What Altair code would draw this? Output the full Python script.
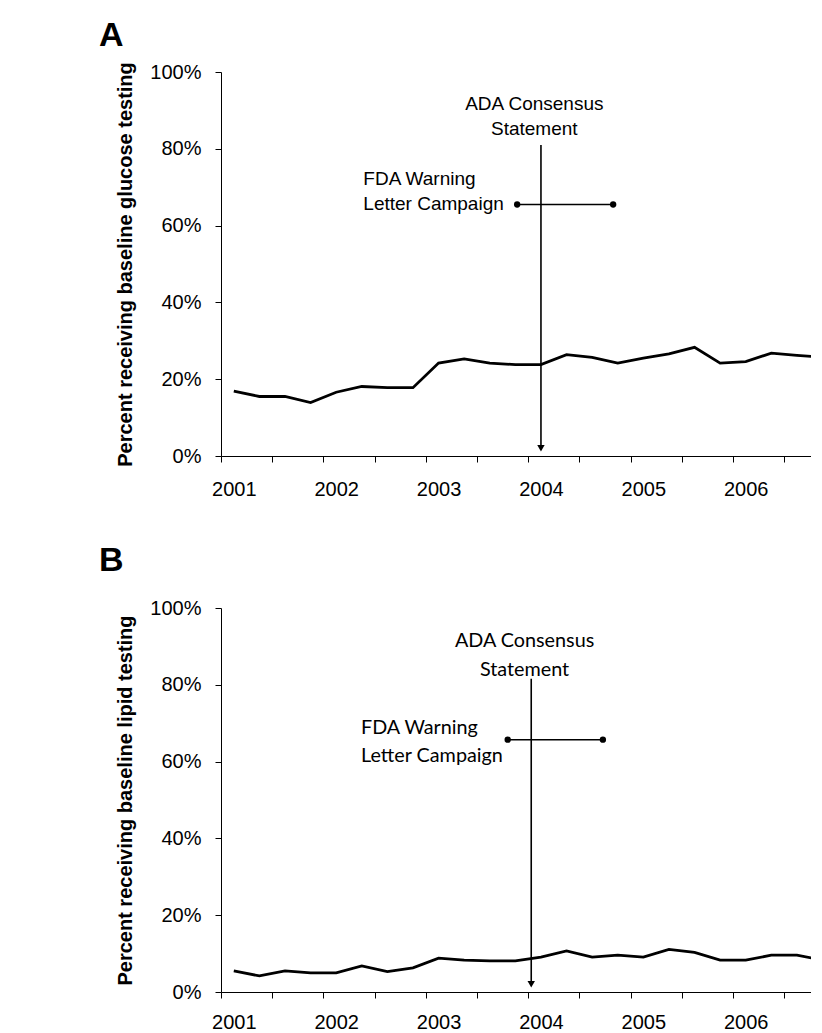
import json
import altair as alt
import pandas as pd

# ---- data -------------------------------------------------------------
quarters = list(range(24))                      # 0 = 2001 Q1 ... 23 = 2006 Q4
years = [2001, 2002, 2003, 2004, 2005, 2006]
y_ticks = [0, 20, 40, 60, 80, 100]

glucose = [16.9, 15.5, 15.5, 13.9, 16.6, 18.1, 17.8, 17.8,
           24.2, 25.3, 24.2, 23.8, 23.8, 26.4, 25.7, 24.2,
           25.5, 26.6, 28.3, 24.2, 24.6, 26.8, 26.2, 25.7]
lipid = [5.5, 4.2, 5.5, 5.0, 5.0, 6.8, 5.3, 6.3,
         8.8, 8.3, 8.1, 8.1, 9.1, 10.7, 9.1, 9.6,
         9.1, 11.1, 10.3, 8.3, 8.3, 9.6, 9.6, 8.3]

ada_lines = ["ADA Consensus", "Statement"]
fda_lines = ["FDA Warning", "Letter Campaign"]

# annotation positions (quarter units, percent)
ann_A = dict(ada_x=12.5, ada_top=81.0, ada_tip=2.0, ada_text_x=12.24, ada_text_y=[91.7, 85.2],
             fda_x1=11.57, fda_x2=15.32, fda_y=65.5, fda_text_x=5.56, fda_text_y=[72.2, 65.5])
ann_B = dict(ada_x=12.12, ada_top=81.6, ada_tip=2.0, ada_text_x=11.86, ada_text_y=[91.3, 83.8],
             fda_x1=11.2, fda_x2=14.92, fda_y=65.7, fda_text_x=5.47, fda_text_y=[68.8, 61.5])

FONT = "Liberation Sans"
W, H = 590, 384
X_END = 23.05   # the reference figure is cropped just after the last quarter tick

year_expr = json.dumps([str(y) for y in years])


def panel(letter, values, ytitle, ann, ann_font, ann_size, title_offset, xpad):
    df = pd.DataFrame({"q": [i + 0.5 for i in quarters], "pct": values})
    xs = alt.Scale(domain=[0, X_END], nice=False, zero=False)
    ys = alt.Scale(domain=[0, 100], nice=False)
    xaxis = alt.Axis(values=quarters, title=None, grid=False, tickSize=6,
                     labelExpr=f"datum.value % 4 === 0 ? {year_expr}[datum.value / 4] : ''",
                     labelOffset=12.8, labelPadding=xpad, labelFlush=False,
                     labelOverlap=False, labelBound=False)
    yaxis = alt.Axis(values=y_ticks, labelExpr="datum.value + '%'", grid=False,
                     tickSize=6, labelPadding=14, titlePadding=14)

    X = alt.X("q:Q", scale=xs, axis=xaxis)
    Y = alt.Y("pct:Q", scale=ys, axis=yaxis, title=ytitle)

    line = alt.Chart(df).mark_line(color="black", strokeWidth=2.8, clip=True).encode(x=X, y=Y)

    arrow_df = pd.DataFrame({"x": [ann["ada_x"]], "y": [ann["ada_top"]], "y2": [ann["ada_tip"]]})
    arrow = alt.Chart(arrow_df).mark_rule(color="black", strokeWidth=1.6).encode(
        x=alt.X("x:Q", scale=xs), y=alt.Y("y:Q", scale=ys), y2="y2:Q")
    head = alt.Chart(arrow_df).mark_point(shape="triangle-down", filled=True, size=55,
                                          color="black", opacity=1).encode(
        x=alt.X("x:Q", scale=xs), y=alt.Y("y2:Q", scale=ys))

    fda_df = pd.DataFrame({"x": [ann["fda_x1"]], "x2": [ann["fda_x2"]], "y": [ann["fda_y"]]})
    fda = alt.Chart(fda_df).mark_rule(color="black", strokeWidth=1.6).encode(
        x=alt.X("x:Q", scale=xs), x2="x2:Q", y=alt.Y("y:Q", scale=ys))
    dots_df = pd.DataFrame({"x": [ann["fda_x1"], ann["fda_x2"]], "y": [ann["fda_y"]] * 2})
    dots = alt.Chart(dots_df).mark_point(shape="circle", filled=True, size=40,
                                         color="black", opacity=1).encode(
        x=alt.X("x:Q", scale=xs), y=alt.Y("y:Q", scale=ys))

    ada_df = pd.DataFrame({"x": [ann["ada_text_x"]] * 2, "y": ann["ada_text_y"], "t": ada_lines})
    ada_txt = alt.Chart(ada_df).mark_text(align="center", baseline="middle", font=ann_font,
                                          fontSize=ann_size, color="black").encode(
        x=alt.X("x:Q", scale=xs), y=alt.Y("y:Q", scale=ys), text="t:N")
    fda_tdf = pd.DataFrame({"x": [ann["fda_text_x"]] * 2, "y": ann["fda_text_y"], "t": fda_lines})
    fda_txt = alt.Chart(fda_tdf).mark_text(align="left", baseline="middle", font=ann_font,
                                           fontSize=ann_size, color="black").encode(
        x=alt.X("x:Q", scale=xs), y=alt.Y("y:Q", scale=ys), text="t:N")

    return alt.layer(line, arrow, head, fda, dots, ada_txt, fda_txt).properties(
        width=W, height=H,
        title=alt.TitleParams(letter, anchor="start", frame="group", font=FONT,
                              fontSize=34, fontWeight="bold", color="black",
                              dx=-122, offset=title_offset))


pA = panel("A", glucose, "Percent receiving baseline glucose testing", ann_A, FONT, 19, 9, 17)
pB = panel("B", lipid, "Percent receiving baseline lipid testing", ann_B, "Lato", 19.8, 20, 14)

chart = alt.vconcat(pA, pB, spacing=152, bounds="flush").properties(
    padding={"left": 91, "top": 10, "right": 0, "bottom": 0}
).configure_view(stroke=None).configure_axis(
    labelFont=FONT, labelFontSize=20, labelColor="black",
    titleFont=FONT, titleFontSize=20, titleFontWeight="bold", titleColor="black",
    domainColor="black", tickColor="black", domainWidth=1, tickWidth=1
)

chart.save("out.html", embed_options={"renderer": "svg", "actions": False})
